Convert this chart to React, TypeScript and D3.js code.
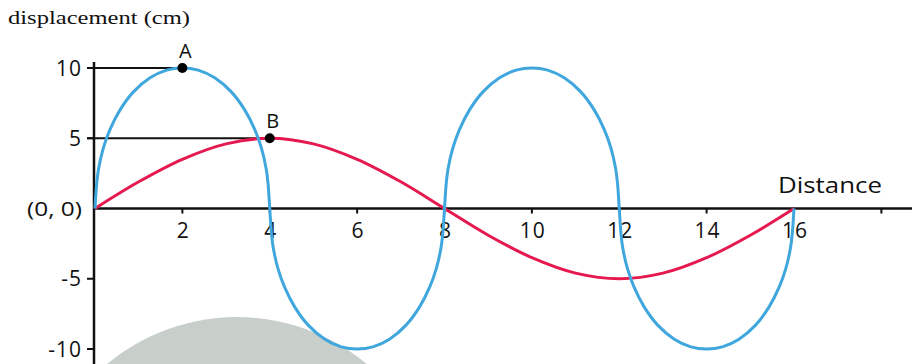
import React from "react";
import * as d3 from "d3";

// blue wave: distance / displacement
const blueDistance = [
  0, 0.04, 0.08, 0.19, 0.34, 0.57, 0.88, 1.26, 1.64, 2, 2.36, 2.74, 3.12, 3.43, 3.66, 3.81, 3.92, 3.96, 4,
  4.04, 4.08, 4.19, 4.34, 4.57, 4.88, 5.26, 5.64, 6, 6.36, 6.74, 7.12, 7.43, 7.66, 7.81, 7.92, 7.96, 8,
  8.04, 8.08, 8.19, 8.34, 8.57, 8.88, 9.26, 9.64, 10, 10.36, 10.74, 11.12, 11.43, 11.66, 11.81, 11.92, 11.96, 12,
  12.04, 12.08, 12.19, 12.34, 12.57, 12.88, 13.26, 13.64, 14, 14.36, 14.74, 15.12, 15.43, 15.66, 15.81, 15.92, 15.96, 16,
];
const blueDisplacement = [
  0, 1.8, 2.8, 4.3, 5.6, 7, 8.3, 9.3, 9.85, 10, 9.85, 9.3, 8.3, 7, 5.6, 4.3, 2.8, 1.8, 0,
  -1.8, -2.8, -4.3, -5.6, -7, -8.3, -9.3, -9.85, -10, -9.85, -9.3, -8.3, -7, -5.6, -4.3, -2.8, -1.8, 0,
  1.8, 2.8, 4.3, 5.6, 7, 8.3, 9.3, 9.85, 10, 9.85, 9.3, 8.3, 7, 5.6, 4.3, 2.8, 1.8, 0,
  -1.8, -2.8, -4.3, -5.6, -7, -8.3, -9.3, -9.85, -10, -9.85, -9.3, -8.3, -7, -5.6, -4.3, -2.8, -1.8, 0,
];

// red wave
const redDistance = [0, 1, 2, 3, 4, 5, 6, 7, 8, 9, 10, 11, 12, 13, 14, 15, 16];
const redDisplacement = [0, 1.9, 3.5, 4.6, 5, 4.6, 3.5, 1.9, 0, -1.9, -3.5, -4.6, -5, -4.6, -3.5, -1.9, 0];

const xTicks = [2, 4, 6, 8, 10, 12, 14, 16, 18];
const xTickLabels = ["2", "4", "6", "8", "10", "12", "14", "16", ""];
const yTicks = [10, 5, 0, -5, -10];
const yTickLabels = ["10", "5", "(0, 0)", "-5", "-10"];

// marked points
const markNames = ["A", "B"];
const markDistance = [2, 4];
const markDisplacement = [10, 5];

const W = 912, H = 364;
const SANS = "'Open Sans', 'Noto Sans', sans-serif";

export default function App() {
  const x = d3.scaleLinear().domain([0, 16]).range([95, 794]);
  const y = d3.scaleLinear().domain([-10, 10]).range([349, 68]);
  const axisX = 94;

  const line = d3.line<[number, number]>()
    .x(d => x(d[0]))
    .y(d => y(d[1]))
    .curve(d3.curveCatmullRom.alpha(0.5));

  const blue = blueDistance.map((d, i) => [d, blueDisplacement[i]] as [number, number]);
  const red = redDistance.map((d, i) => [d, redDisplacement[i]] as [number, number]);

  return (
    <svg width={W} height={H} style={{ position: "absolute", left: 0, top: 0, background: "#fff" }}>
      {/* watermark blob */}
      <circle cx={237} cy={520} r={203} fill="#c8cfcb" />

      <text x={8} y={24} fontFamily="'Liberation Serif', 'Times New Roman', serif" fontSize={18}
        textLength={182} lengthAdjust="spacingAndGlyphs" fill="#111">displacement (cm)</text>

      {/* guide lines to A and B */}
      {markNames.map((n, i) => (
        <line key={n} x1={axisX - 7} x2={x(markDistance[i])} y1={y(markDisplacement[i])} y2={y(markDisplacement[i])}
          stroke="#111" strokeWidth={2} />
      ))}

      {/* axes */}
      <line x1={axisX} x2={axisX} y1={62} y2={H} stroke="#111" strokeWidth={2.5} />
      <line x1={axisX} x2={W} y1={y(0)} y2={y(0)} stroke="#111" strokeWidth={2.5} />
      {yTicks.map((t, i) => (
        <g key={t}>
          {t !== 0 && <line x1={axisX - 7} x2={axisX} y1={y(t)} y2={y(t)} stroke="#111" strokeWidth={2} />}
          {t === 0 ? (
            <text x={82} y={y(t)} dy="0.36em" textAnchor="end" fontFamily={SANS} fontSize={20}
              textLength={55} lengthAdjust="spacingAndGlyphs" fill="#111">{yTickLabels[i]}</text>
          ) : (
            <text x={82} y={y(t)} dy="0.36em" textAnchor="end" fontFamily={SANS} fontSize={21}
              letterSpacing={1} fill="#111">{yTickLabels[i]}</text>
          )}
        </g>
      ))}
      {xTicks.map((t, i) => (
        <g key={t}>
          <line x1={x(t)} x2={x(t)} y1={y(0)} y2={y(0) + 5} stroke="#111" strokeWidth={2} />
          <text x={x(t) + 1} y={238} textAnchor="middle" fontFamily={SANS} fontSize={21}
            letterSpacing={1} fill="#111">{xTickLabels[i]}</text>
        </g>
      ))}
      <text x={778} y={193} fontFamily={SANS} fontSize={21} textLength={104}
        lengthAdjust="spacingAndGlyphs" fill="#111">Distance</text>

      {/* waves */}
      <path d={line(red) ?? ""} fill="none" stroke="#e5194f" strokeWidth={3} />
      <path d={line(blue) ?? ""} fill="none" stroke="#3fa7dd" strokeWidth={3} />

      {/* points */}
      {markNames.map((n, i) => (
        <g key={n}>
          <circle cx={x(markDistance[i])} cy={y(markDisplacement[i])} r={5} fill="#000" />
          <text x={x(markDistance[i]) + 3} y={y(markDisplacement[i]) - 10} textAnchor="middle"
            fontFamily={SANS} fontSize={20} fill="#111">{n}</text>
        </g>
      ))}
    </svg>
  );
}
